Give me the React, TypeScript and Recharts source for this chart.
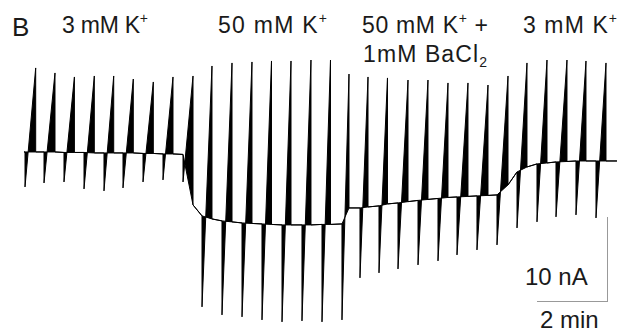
import React from "react";
import { ComposedChart, Area, XAxis, YAxis } from "recharts";

// whole-cell current, 30 voltage ramps (time in min, current in nA)
const stepTimes = [
  0.139, 0.667, 1.222, 1.778, 2.333, 2.861, 3.417, 3.972, 4.528,
  5.056, 5.611, 6.167, 6.722, 7.278, 7.833, 8.389, 8.944,
  9.444, 9.972, 10.5, 11.056, 11.611, 12.139, 12.694, 13.25,
  13.806, 14.361, 14.889, 15.444, 16.0,
];
const peakTimes = [
  0.436, 0.972, 1.511, 2.064, 2.603, 3.147, 3.703, 4.25, 4.806,
  5.333, 5.889, 6.444, 6.986, 7.528, 8.083, 8.625, 9.139,
  9.667, 10.208, 10.778, 11.333, 11.889, 12.444, 13.0, 13.556,
  14.083, 14.639, 15.194, 15.722, 16.278,
];
const peaks = [
  10.37, 9.76, 9.27, 9.39, 9.39, 9.02, 8.66, 9.27, 9.39,
  10.61, 10.98, 11.1, 11.22, 11.22, 11.34, 11.34, 9.63,
  9.27, 9.15, 8.9, 8.9, 8.54, 8.54, 8.29, 9.39,
  10.98, 11.34, 11.34, 11.22, 10.98,
];
const troughs = [
  -4.15, -3.66, -3.54, -4.39, -4.63, -4.27, -3.54, -3.29, -3.54,
  -18.78, -19.76, -20.0, -20.37, -20.61, -20.49, -20.61, -20.37,
  -15.24, -14.63, -14.15, -13.66, -13.17, -12.44, -11.83, -11.22,
  -9.15, -8.41, -7.8, -7.56, -7.93,
];
// holding current just before each ramp and just after it
const basePre = [
  0.12, 0.12, 0.06, 0.06, 0, 0, -0.06, -0.12, -0.18,
  -7.68, -8.29, -8.54, -8.66, -8.78, -8.78, -8.72, -8.66,
  -6.71, -6.46, -6.1, -5.79, -5.55, -5.37, -5.24, -5.12,
  -2.32, -1.34, -1.1, -0.98, -0.98,
];
const basePost = [
  0.12, 0.12, 0.06, 0, 0, 0, -0.06, -0.12, -6.34,
  -8.05, -8.41, -8.6, -8.72, -8.78, -8.78, -8.72, -6.71,
  -6.59, -6.22, -5.94, -5.67, -5.43, -5.3, -5.18, -3.9,
  -1.71, -1.22, -1.04, -0.98, -0.98,
];
const traceStart = 0.111;
const traceEnd = 16.583;

type Pt = { t: number; v: number; base: number };
const data: Pt[] = [{ t: traceStart, v: basePre[0], base: basePre[0] }];
stepTimes.forEach((t, i) => {
  data.push({ t, v: basePre[i], base: basePre[i] });
  data.push({ t, v: troughs[i], base: basePre[i] });
  data.push({ t: peakTimes[i], v: peaks[i], base: basePost[i] });
  data.push({ t: peakTimes[i], v: basePost[i], base: basePost[i] });
});
const last = basePost[basePost.length - 1];
data.push({ t: traceEnd, v: last, base: last });

const font = "'Liberation Sans', Arial, sans-serif";
const ink = "#1a1a1a";

function Labels() {
  const sup = { fontSize: 14 };
  return (
    <svg
      width={624}
      height={333}
      style={{ position: "absolute", left: 0, top: 0, pointerEvents: "none" }}
      fontFamily={font}
      fill={ink}
    >
      <text x={12} y={36} fontSize={26}>B</text>
      <text x={62} y={33} fontSize={23} textLength={86} lengthAdjust="spacing">
        3 mM K<tspan dy={-10} {...sup}>+</tspan>
      </text>
      <text x={218} y={33} fontSize={23} textLength={109} lengthAdjust="spacing">
        50 mM K<tspan dy={-10} {...sup}>+</tspan>
      </text>
      <text x={362} y={33} fontSize={23} textLength={126} lengthAdjust="spacing">
        50 mM K<tspan dy={-10} {...sup}>+</tspan>
        <tspan dy={10}> +</tspan>
      </text>
      <text x={363} y={62} fontSize={23} textLength={124} lengthAdjust="spacing">
        1mM BaCl<tspan dy={5} {...sup}>2</tspan>
      </text>
      <text x={523} y={33} fontSize={23} textLength={94} lengthAdjust="spacing">
        3 mM K<tspan dy={-10} {...sup}>+</tspan>
      </text>
      <line x1={607.5} y1={217} x2={607.5} y2={301} stroke="#999" strokeWidth={1} />
      <line x1={537} y1={301.5} x2={608} y2={301.5} stroke="#999" strokeWidth={1} />
      <text x={525} y={285} fontSize={24}>10 nA</text>
      <text x={540} y={328} fontSize={24}>2 min</text>
    </svg>
  );
}

export default function App() {
  return (
    <div style={{ position: "absolute", left: 0, top: 0, width: 624, height: 333, background: "#fff" }}>
      <ComposedChart
        width={624}
        height={333}
        data={data}
        margin={{ top: 30, right: 4, bottom: 3, left: 20 }}
      >
        <XAxis type="number" dataKey="t" domain={[0, 16.667]} hide allowDataOverflow />
        <YAxis type="number" domain={[-21.6, 15]} hide allowDataOverflow />
        <Area
          type="linear"
          dataKey={(d: Pt) => [d.base, d.v]}
          stroke="#000"
          strokeWidth={1}
          fill="#000"
          fillOpacity={1}
          dot={false}
          activeDot={false}
          isAnimationActive={false}
        />
      </ComposedChart>
      <Labels />
    </div>
  );
}
